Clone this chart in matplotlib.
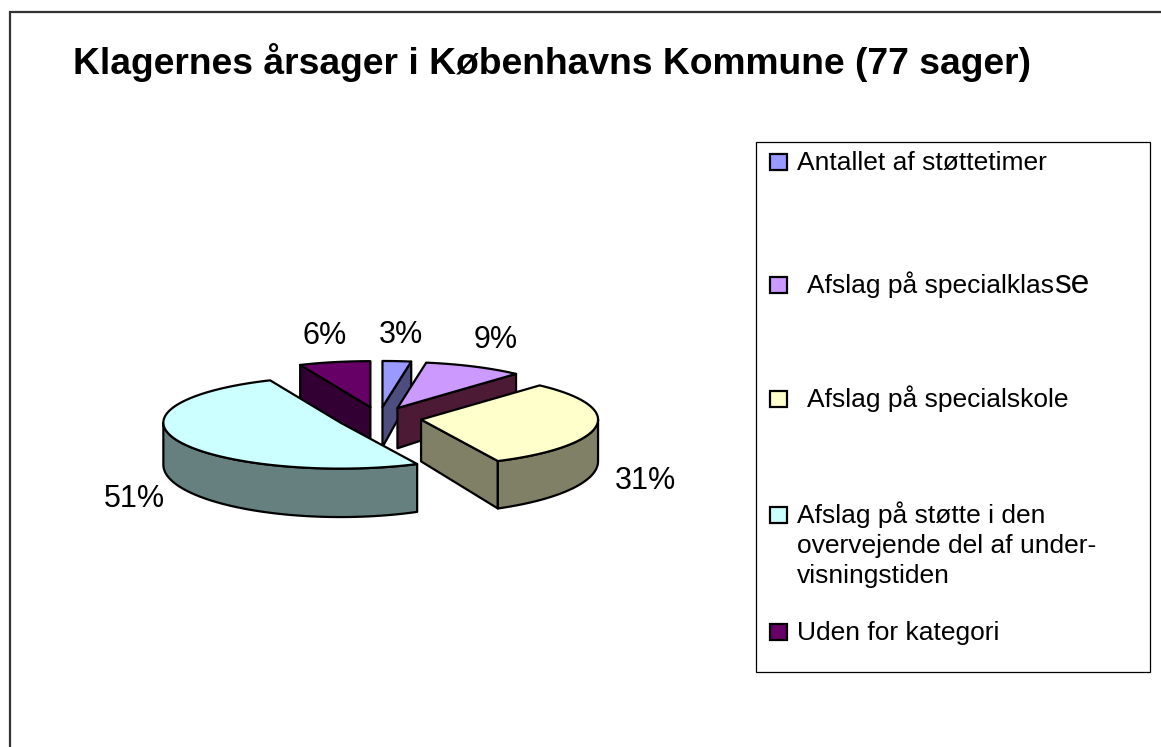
import numpy as np
import matplotlib
matplotlib.use("Agg")
import matplotlib.pyplot as plt
from matplotlib.patches import Polygon, Rectangle
from matplotlib.transforms import Affine2D

plt.rcParams['font.family'] = ['Liberation Sans', 'DejaVu Sans']

title = "Klagernes årsager i Københavns Kommune (77 sager)"
categories = ["Antallet af støttetimer",
              "Afslag på specialklasse",
              "Afslag på specialskole",
              "Afslag på støtte i den\novervejende del af under-\nvisningstiden",
              "Uden for kategori"]
counts = [2, 7, 24, 39, 5]
top_colors = ["#9999ff", "#cc99ff", "#ffffcc", "#ccffff", "#660066"]
side_colors = ["#4d4d80", "#4d1a36", "#808066", "#668080", "#330033"]

W, H = 1161, 747
fig = plt.figure(figsize=(W / 100, H / 100), dpi=100)
ax = fig.add_axes([0, 0, 1, 1])
ax.set_xlim(0, W)
ax.set_ylim(H, 0)
ax.axis('off')

# pie drawn in radius units, mapped onto the pixel axes
pie_tr = Affine2D().scale(177, -177).translate(379, 418) + ax.transData
tilt = 0.26
depth0 = 0.235
persp = 0.15
explode = 0.24


def depth(z):
    return depth0 * (1 - persp * z)


def proj(x, z, low=False):
    y = z * tilt
    if low:
        y = y - depth(z)
    return (x, y)


def add_poly(pts, fc):
    ax.add_patch(Polygon(pts, closed=True, transform=pie_tr, fc=fc,
                         ec='black', lw=1.6, joinstyle='round'))


total = sum(counts)
edges = np.concatenate([[0], np.cumsum(counts) / total * 360])

slices = []
for i in range(len(counts)):
    a0, a1 = edges[i], edges[i + 1]
    am = np.radians((a0 + a1) / 2)
    cx, cz = explode * np.sin(am), explode * np.cos(am)
    slices.append((cz, i, a0, a1, am, cx))

# farthest slice first
for cz, i, a0, a1, am, cx in sorted(slices, reverse=True):
    # cut faces
    for a, visible in ((a0, np.sin(np.radians(a0)) < -1e-9),
                       (a1, np.sin(np.radians(a1)) > 1e-9)):
        if not visible:
            continue
        rx, rz = cx + np.sin(np.radians(a)), cz + np.cos(np.radians(a))
        add_poly([proj(cx, cz), proj(rx, rz), proj(rx, rz, True), proj(cx, cz, True)],
                 side_colors[i])
    # outer wall (front half only)
    lo, hi = max(a0, 90), min(a1, 270)
    if lo < hi:
        t = np.radians(np.linspace(lo, hi, 80))
        xs, zs = cx + np.sin(t), cz + np.cos(t)
        pts = [proj(x, z) for x, z in zip(xs, zs)]
        pts += [proj(x, z, True) for x, z in zip(xs[::-1], zs[::-1])]
        add_poly(pts, side_colors[i])
    # top face
    t = np.radians(np.linspace(a0, a1, 120))
    pts = [proj(cx, cz)] + [proj(cx + np.sin(v), cz + np.cos(v)) for v in t]
    add_poly(pts, top_colors[i])

    # percentage label
    lx = 1.52 * np.sin(am)
    rim_y = (1 + explode) * np.cos(am) * tilt
    if np.cos(am) > 0:
        ly = rim_y + 0.15
    else:
        ly = rim_y - depth((1 + explode) * np.cos(am)) - 0.07
    ax.text(lx, ly, f"{round(100 * counts[i] / total)}%", transform=pie_tr,
            ha='center', va='center', fontsize=22, color='black')

# title and chart frame
ax.text(73, 74, title, fontsize=26.8, fontweight='bold', ha='left', va='baseline')
ax.plot([10, 10, W + 5], [H + 5, 12, 12], color='#333333', lw=1.6,
        solid_joinstyle='miter', clip_on=False)

# legend
ax.add_patch(Rectangle((756, 142), 394, 530, fc='white', ec='black', lw=0.9))
baselines = [170, 293, 407, 523, 640]
text_x = [797, 807, 807, 797, 797]
for i, lab in enumerate(categories):
    b = baselines[i]
    ax.add_patch(Rectangle((770, b - 16), 17, 16, fc=top_colors[i], ec='black', lw=1.6))
    if i == 1:
        t1 = ax.text(text_x[i], b, lab[:-2], fontsize=19, va='baseline', ha='left')
        fig.canvas.draw()
        x_end = t1.get_window_extent().x1
        ax.text(x_end, b, lab[-2:], fontsize=24, va='baseline', ha='left')
        continue
    for k, line in enumerate(lab.split('\n')):
        ax.text(text_x[i], b + 30 * k, line, fontsize=19, va='baseline', ha='left')

fig.savefig('out.png', dpi=100)
